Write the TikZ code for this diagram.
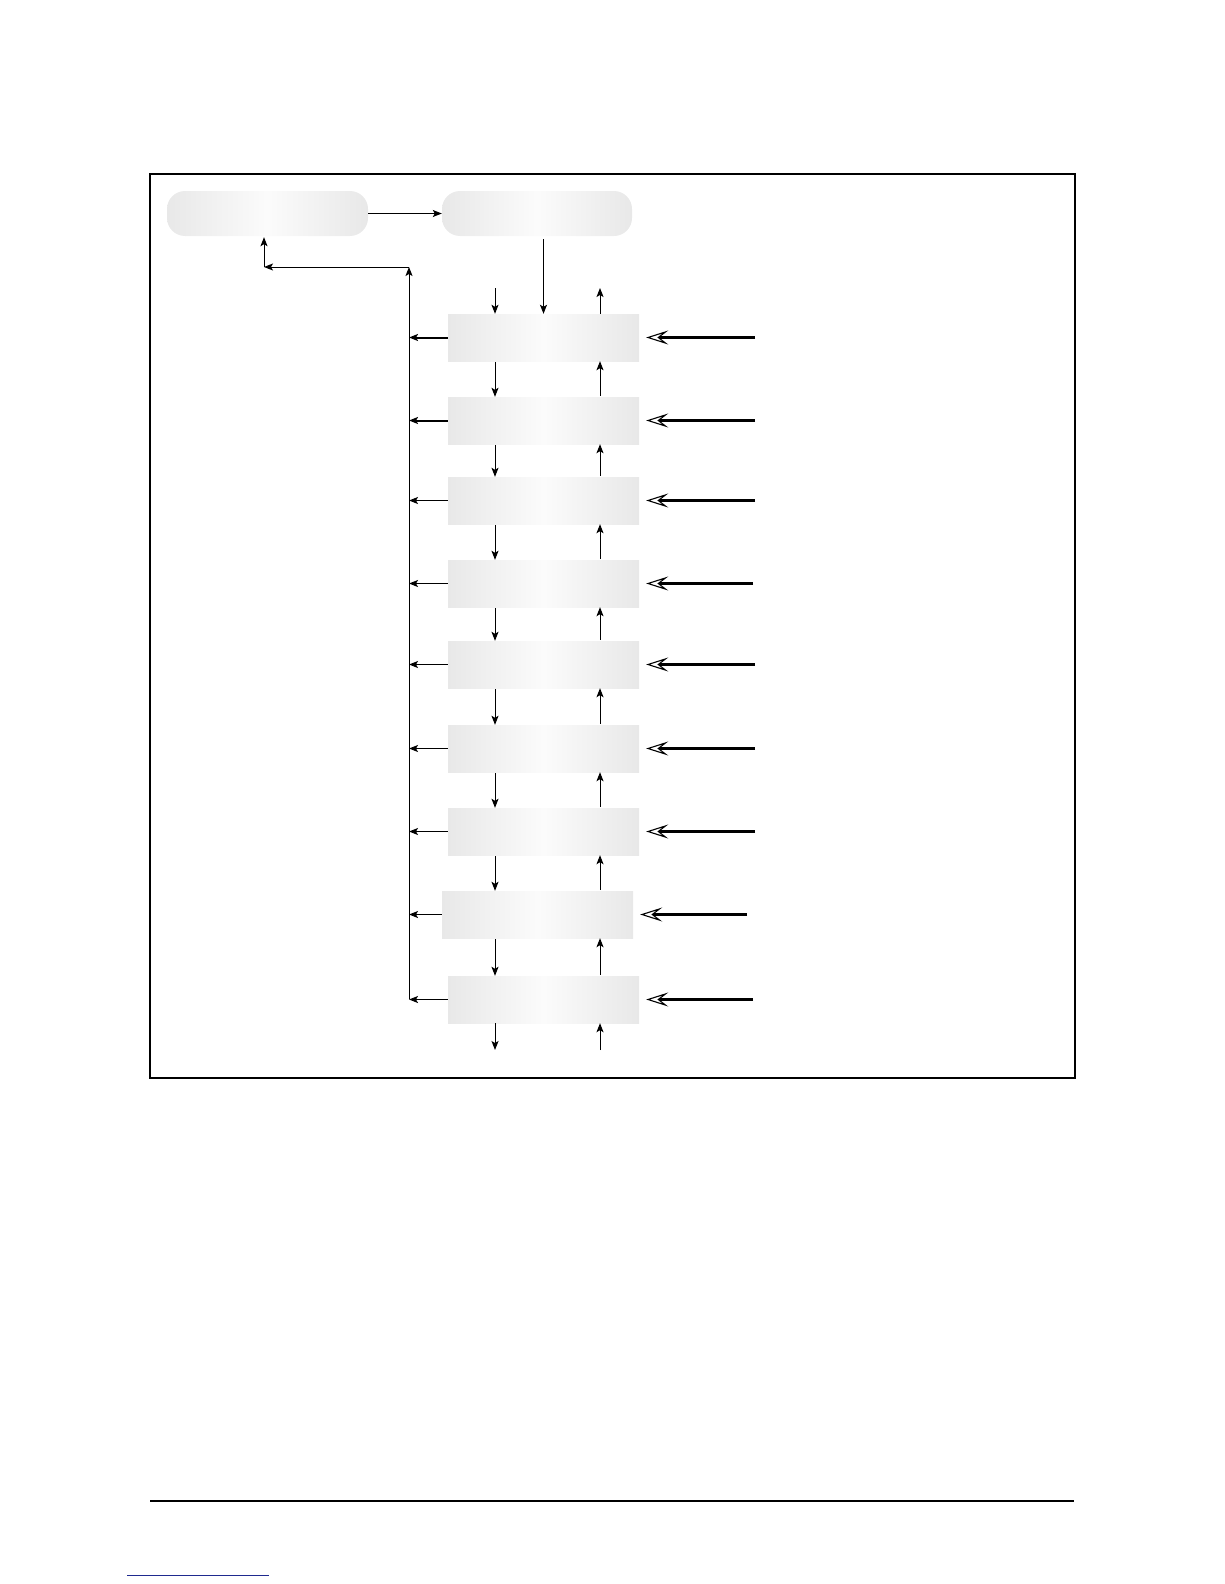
\documentclass[tikz,border=0pt]{standalone}
\usetikzlibrary{arrows.meta,calc}
\definecolor{linkblue}{HTML}{1F2A8F}
\begin{document}
\begin{tikzpicture}[x=1pt,y=-1pt,
  arr/.style={-{Stealth[length=9pt,width=7pt,inset=2pt]}, line width=1pt},
  thickarr/.style={arr, line width=2pt},
  inarr/.style={-{Stealth[open,length=22pt,width=14pt,inset=9pt,line width=1.1pt]}, line width=2.4pt, shorten >=7pt},
  pill/.style={rounded corners=18pt, minimum width=#1, minimum height=45pt, inner sep=0pt,
    left color=black!9, right color=black!9, middle color=black!1.5},
  stagebox/.style={minimum width=191pt, minimum height=47pt, inner sep=0pt,
    left color=black!9, right color=black!9, middle color=black!1.5}]
\useasboundingbox (0,0) rectangle (1224,1584);
% frame
\draw[line width=1.5pt] (150,174) rectangle (1075,1078);
% top boxes
\node[pill=201pt] (b1) at (267.5,213.5) {};
\node[pill=190pt] (b2) at (537,213.5) {};
% stage boxes
\node[stagebox] (s1) at (543.5,337.5) {};
\node[stagebox] (s2) at (543.5,420.5) {};
\node[stagebox] (s3) at (543.5,500.5) {};
\node[stagebox] (s4) at (543.5,583.5) {};
\node[stagebox] (s5) at (543.5,664.5) {};
\node[stagebox] (s6) at (543.5,748.5) {};
\node[stagebox] (s7) at (543.5,831.5) {};
\node[stagebox] (s8) at (537.5,914.5) {};
\node[stagebox] (s9) at (543.5,999.5) {};
% helper coordinates
\coordinate (dx) at (495,0);
\coordinate (ux) at (600,0);
\coordinate (bustop) at (409,267);
\coordinate (busbot) at (409,999);
\coordinate (corner) at (264,267);
\coordinate (topd) at (495,288);
\coordinate (topu) at (600,288);
\coordinate (botd) at (495,1050);
\coordinate (botu) at (600,1050);
% top connections
\draw[arr] (b1) -- (b2);
\draw[arr, shorten <=3pt] (s1.north |- b2.south) -- (s1.north);
\draw[arr] (busbot) -- (bustop);
\draw[arr] (bustop) -- (corner);
\draw[arr, shorten >=1pt] (corner) -- (corner |- b1.south);
% arrows above first stage and below last stage
\draw[arr] (topd) -- (topd |- s1.north);
\draw[arr] (topu |- s1.north) -- (topu);
\draw[arr] (s9.south -| botd) -- (botd);
\draw[arr] (botu) -- (s9.south -| botu);
% arrows between stages
\foreach \a/\b in {s1/s2,s2/s3,s3/s4,s4/s5,s5/s6,s6/s7,s7/s8,s8/s9}{
  \draw[arr, shorten <=1pt] (\a.south -| dx) -- (\b.north -| dx);
  \draw[arr, shorten <=1pt] (\b.north -| ux) -- (\a.south -| ux);
}
% outputs to the bus
\draw[thickarr] (s1.west) -- (s1.west -| bustop);
\draw[thickarr] (s2.west) -- (s2.west -| bustop);
\foreach \s in {s3,s4,s5,s6,s7,s8,s9}{
  \draw[arr] (\s.west) -- (\s.west -| bustop);
}
% inputs from the right
\foreach \s/\e in {s1/755,s2/755,s3/755,s4/753,s5/755,s6/755,s7/755,s9/753}{
  \coordinate (in\s) at (\e,0);
  \draw[inarr] (\s.east -| in\s) -- (\s.east);
}
\coordinate (ins8) at (747,0);
\draw[inarr] (s8.east -| ins8) -- (s8.east);
% bottom rule and link line
\draw[line width=1.2pt] (150,1501) -- (1074,1501);
\draw[linkblue, line width=1pt] (127,1575) -- (269,1575);
\end{tikzpicture}
\end{document}
